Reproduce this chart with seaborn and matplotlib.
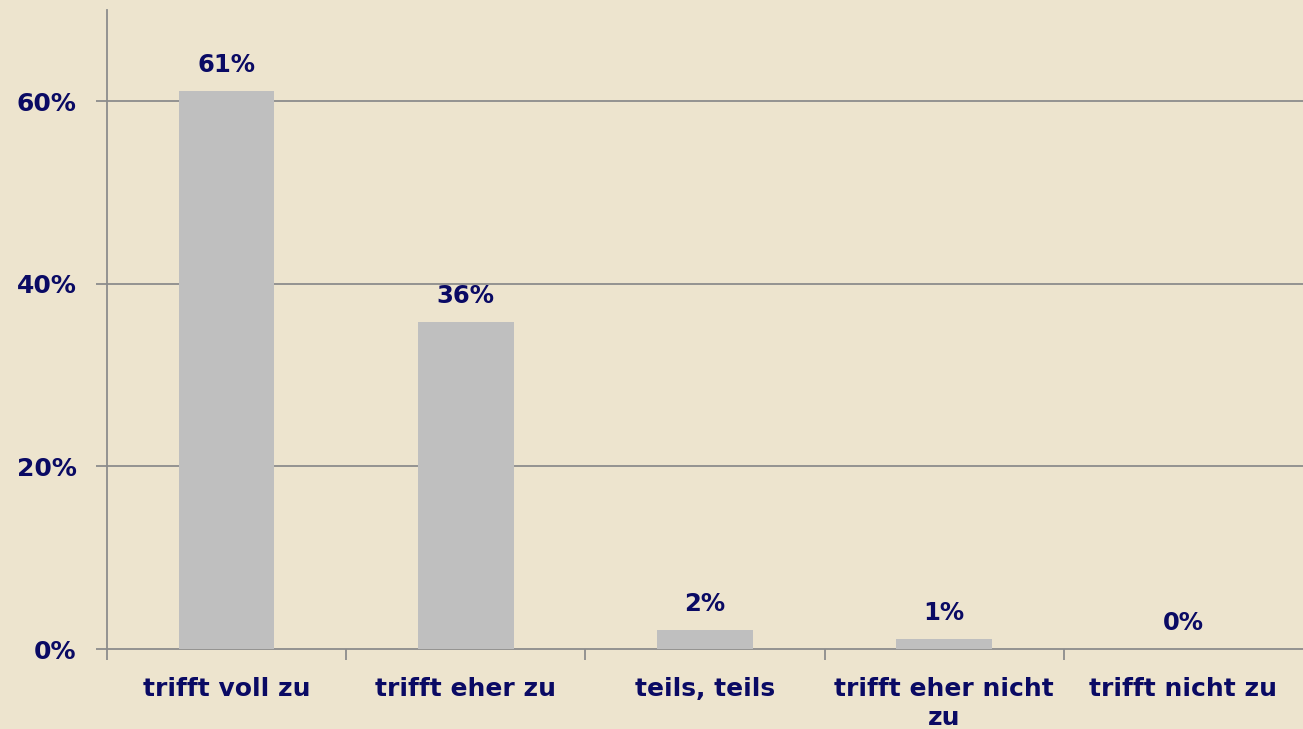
import numpy as np
import pandas as pd
import matplotlib
matplotlib.use("Agg")
import matplotlib.pyplot as plt
import seaborn as sns

kategorien = ["trifft voll zu", "trifft eher zu", "teils, teils",
              "trifft eher nicht\nzu", "trifft nicht zu"]
anteile = [61.1, 35.8, 2.1, 1.1, 0.0]
y_ticks = [0, 20, 40, 60]

bg = "#EDE4CE"
navy = "#0A0A64"
grau = "#8C8C8C"

df = pd.DataFrame({"kategorie": kategorien, "anteil": anteile})

sns.set_style("white")
plt.rcParams["font.family"] = ["DejaVu Sans"]

fig = plt.figure(figsize=(13.03, 7.29), dpi=100, facecolor=bg)
ax = fig.add_axes([0.0821, 0.1097, 0.9179, 0.8766])
ax.set_facecolor(bg)

sns.barplot(data=df, x="kategorie", y="anteil", color="#BFBFBF",
            saturation=1, width=0.4, linewidth=0, ax=ax, zorder=3)

ax.set_ylim(0, 70)
ax.set_xlim(-0.5, 4.5)
ax.set_yticks(y_ticks)
ax.set_yticklabels([f"{v}%" for v in y_ticks])
for v in y_ticks[1:]:
    ax.axhline(v, color=grau, lw=1.3, zorder=1)

# Tickmarks zwischen den Kategorien
ax.set_xticks(np.arange(-0.5, 4.0, 1.0), minor=True)
ax.tick_params(axis="x", which="major", bottom=True, length=0, pad=20)
ax.tick_params(axis="x", which="minor", bottom=True, length=8, width=1.3, color=grau)
ax.tick_params(axis="y", left=True, length=8, width=1.3, color=grau, pad=14)

for lab in ax.get_xticklabels() + ax.get_yticklabels():
    lab.set_fontsize(18)
    lab.set_fontweight("bold")
    lab.set_color(navy)
for lab in ax.get_xticklabels():
    lab.set_linespacing(1.25)

ax.set_xlabel("")
ax.set_ylabel("")

for side in ["top", "right"]:
    ax.spines[side].set_visible(False)
for side in ["left", "bottom"]:
    ax.spines[side].set_color(grau)
    ax.spines[side].set_linewidth(1.3)

ax.bar_label(ax.containers[0], labels=[f"{v:.0f}%" for v in anteile],
             padding=10, fontsize=17.5, fontweight="bold", color=navy)

fig.savefig("out.png", dpi=100, facecolor=bg)
